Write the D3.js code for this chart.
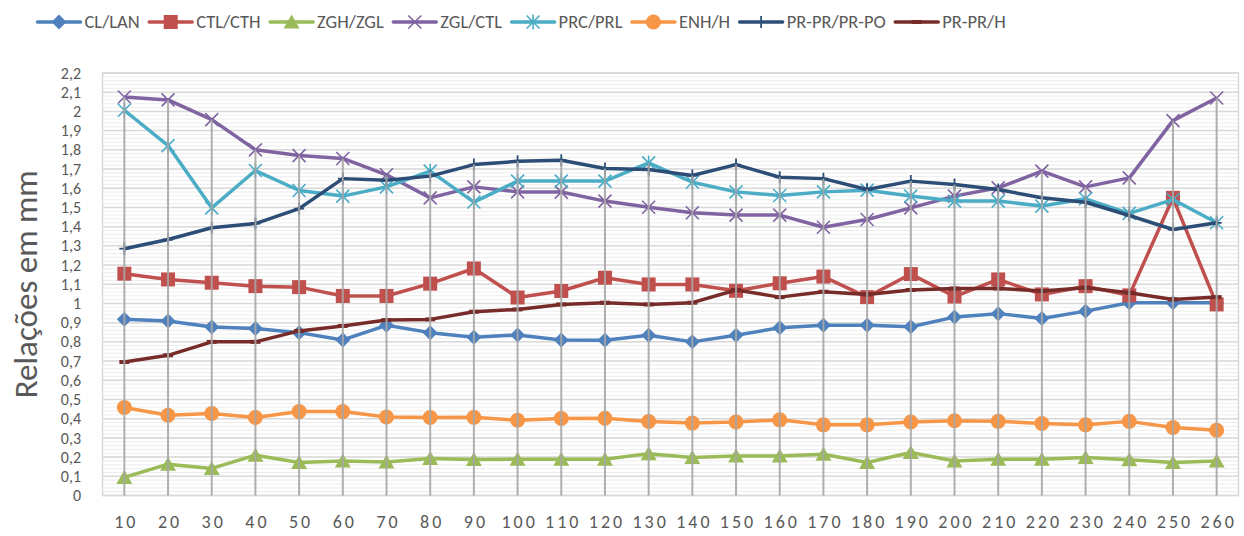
<!DOCTYPE html>
<html>
<head>
<meta charset="utf-8">
<script src="https://cdn.jsdelivr.net/npm/d3@7"></script>
<style>
  html, body { margin: 0; padding: 0; background: #fff; }
  svg { display: block; font-family: Carlito, Lato, "Open Sans", sans-serif; }
</style>
</head>
<body>
<svg id="chart" width="1244" height="536"></svg>
<script>
// Categories (x axis) and y tick labels
const categories = [10, 20, 30, 40, 50, 60, 70, 80, 90, 100, 110, 120, 130, 140, 150, 160, 170, 180, 190, 200, 210, 220, 230, 240, 250, 260];
const yTickValues = [0, 0.1, 0.2, 0.3, 0.4, 0.5, 0.6, 0.7, 0.8, 0.9, 1, 1.1, 1.2, 1.3, 1.4, 1.5, 1.6, 1.7, 1.8, 1.9, 2, 2.1, 2.2];

// Series values (ratios in mm)
const clLan = [0.918, 0.909, 0.877, 0.870, 0.848, 0.810, 0.886, 0.848, 0.824, 0.836, 0.810, 0.808, 0.834, 0.800, 0.834, 0.874, 0.886, 0.886, 0.879, 0.929, 0.947, 0.922, 0.960, 1.004, 1.004, 1.004];
const ctlCth = [1.155, 1.125, 1.108, 1.090, 1.085, 1.039, 1.039, 1.103, 1.182, 1.031, 1.065, 1.134, 1.099, 1.099, 1.066, 1.105, 1.140, 1.033, 1.153, 1.036, 1.125, 1.047, 1.090, 1.042, 1.550, 0.995];
const zghZgl = [0.094, 0.163, 0.141, 0.210, 0.172, 0.180, 0.175, 0.193, 0.187, 0.189, 0.189, 0.189, 0.218, 0.198, 0.206, 0.206, 0.215, 0.172, 0.224, 0.180, 0.189, 0.189, 0.198, 0.186, 0.172, 0.180];
const zglCtl = [2.075, 2.060, 1.957, 1.800, 1.770, 1.755, 1.670, 1.550, 1.607, 1.581, 1.580, 1.533, 1.501, 1.472, 1.460, 1.460, 1.397, 1.437, 1.498, 1.559, 1.602, 1.689, 1.607, 1.654, 1.952, 2.070];
const prcPrl = [2.006, 1.822, 1.498, 1.692, 1.588, 1.559, 1.607, 1.689, 1.528, 1.637, 1.637, 1.637, 1.732, 1.631, 1.581, 1.562, 1.581, 1.590, 1.559, 1.533, 1.533, 1.507, 1.545, 1.469, 1.541, 1.420];
const enhH = [0.458, 0.418, 0.427, 0.406, 0.437, 0.437, 0.409, 0.406, 0.407, 0.392, 0.401, 0.402, 0.385, 0.377, 0.383, 0.394, 0.368, 0.368, 0.383, 0.389, 0.386, 0.375, 0.368, 0.386, 0.354, 0.340];
const prPrPo = [1.285, 1.333, 1.394, 1.416, 1.494, 1.650, 1.642, 1.663, 1.723, 1.740, 1.746, 1.703, 1.697, 1.666, 1.723, 1.657, 1.650, 1.593, 1.637, 1.619, 1.593, 1.550, 1.527, 1.458, 1.385, 1.420];
const prPrH = [0.695, 0.730, 0.800, 0.800, 0.857, 0.883, 0.914, 0.917, 0.957, 0.969, 0.995, 1.004, 0.995, 1.004, 1.070, 1.033, 1.061, 1.047, 1.070, 1.078, 1.078, 1.065, 1.082, 1.056, 1.021, 1.033];

const seriesNames = ["CL/LAN", "CTL/CTH", "ZGH/ZGL", "ZGL/CTL", "PRC/PRL", "ENH/H", "PR-PR/PR-PO", "PR-PR/H"];
const seriesValues = [clLan, ctlCth, zghZgl, zglCtl, prcPrl, enhH, prPrPo, prPrH];
const seriesColors = ["#4F81BD", "#C0504D", "#9BBB59", "#8064A2", "#4BACC6", "#F79646", "#2C4D75", "#772C2A"];
const seriesMarkers = ["diamond", "square", "triangle", "x", "star", "circle", "plus", "dash"];

const series = seriesNames.map((name, i) => ({
  name, color: seriesColors[i], marker: seriesMarkers[i],
  values: seriesValues[i].map((v, j) => ({ cat: categories[j], v }))
}));

const svg = d3.select("#chart");
const plot = { left: 102.5, right: 1238.5, top: 73, bottom: 495.5 };

const x = d3.scalePoint().domain(categories).range([plot.left, plot.right]).padding(0.5);
const y = d3.scaleLinear().domain([0, 2.2]).range([plot.bottom, plot.top]);

// Minor and major horizontal gridlines
const minorTicks = d3.range(0, 111).map(i => i * 0.02);
svg.append("g").selectAll("line").data(minorTicks).join("line")
  .attr("x1", plot.left).attr("x2", plot.right)
  .attr("y1", d => y(d)).attr("y2", d => y(d))
  .attr("stroke", "#ededed").attr("stroke-width", 1);
svg.append("g").selectAll("line").data(yTickValues).join("line")
  .attr("x1", plot.left).attr("x2", plot.right)
  .attr("y1", d => y(d)).attr("y2", d => y(d))
  .attr("stroke", "#d9d9d9").attr("stroke-width", 1.5);

// Plot border
svg.append("rect")
  .attr("x", plot.left).attr("y", plot.top)
  .attr("width", plot.right - plot.left).attr("height", plot.bottom - plot.top)
  .attr("fill", "none").attr("stroke", "#d9d9d9").attr("stroke-width", 1.5);

// Y axis labels
const yAxis = d3.axisLeft(y).tickValues(yTickValues).tickSize(0).tickPadding(0)
  .tickFormat(d => d3.format("~g")(d).replace(".", ","));
const yg = svg.append("g").attr("transform", `translate(81,0)`).call(yAxis);
yg.select(".domain").remove();
yg.selectAll("text").attr("font-size", 16).attr("fill", "#595959")
  .attr("font-family", "Carlito, Lato, sans-serif");

// X axis labels
const xAxis = d3.axisBottom(x).tickSize(0).tickPadding(0);
const xg = svg.append("g").attr("transform", `translate(1.5,515)`).call(xAxis);
xg.select(".domain").remove();
xg.selectAll("text").attr("font-size", 18).attr("fill", "#595959")
  .attr("letter-spacing", 3)
  .attr("font-family", "Carlito, Lato, sans-serif");

// Y axis title
svg.append("text")
  .attr("transform", `translate(37,${(plot.top + plot.bottom) / 2}) rotate(-90)`)
  .attr("text-anchor", "middle")
  .attr("font-size", 33).attr("fill", "#595959")
  .text("Relações em mm");

// Marker drawing
function drawMarker(g, type, color) {
  switch (type) {
    case "diamond":
      g.append("path").attr("d", "M0,-7.5L7.5,0L0,7.5L-7.5,0Z").attr("fill", color);
      break;
    case "square":
      g.append("rect").attr("x", -7).attr("y", -7).attr("width", 14).attr("height", 14).attr("fill", color);
      break;
    case "triangle":
      g.append("path").attr("d", "M0,-7.5L8,6.5L-8,6.5Z").attr("fill", color);
      break;
    case "circle":
      g.append("circle").attr("r", 7.5).attr("fill", color);
      break;
    case "x":
      g.append("path").attr("d", "M-6.5,-6.5L6.5,6.5M-6.5,6.5L6.5,-6.5").attr("stroke", color).attr("stroke-width", 1.6).attr("fill", "none");
      break;
    case "star":
      g.append("path").attr("d", "M-6.5,-6.5L6.5,6.5M-6.5,6.5L6.5,-6.5M0,-7.5L0,7.5").attr("stroke", color).attr("stroke-width", 1.6).attr("fill", "none");
      break;
    case "plus":
      g.append("path").attr("d", "M0,-6L0,6M-5,0L5,0").attr("stroke", color).attr("stroke-width", 1.8).attr("fill", "none");
      break;
    case "dash":
      g.append("path").attr("d", "M-5,0L5,0").attr("stroke", color).attr("stroke-width", 4).attr("fill", "none");
      break;
  }
}

const line = d3.line().x(d => x(d.cat)).y(d => y(d.v));

series.forEach(s => {
  const g = svg.append("g");
  g.append("path").datum(s.values).attr("d", line)
    .attr("fill", "none").attr("stroke", s.color).attr("stroke-width", 3.5)
    .attr("stroke-linejoin", "round");
  s.values.forEach(p => {
    const m = g.append("g").attr("transform", `translate(${x(p.cat)},${y(p.v)})`);
    drawMarker(m, s.marker, s.color);
  });
});

// Drop lines from the highest point of each category down to the axis
const maxPerCat = categories.map((c, j) => ({ cat: c, v: d3.max(seriesValues, s => s[j]) }));
svg.append("g").selectAll("line").data(maxPerCat).join("line")
  .attr("x1", d => x(d.cat)).attr("x2", d => x(d.cat))
  .attr("y1", d => y(d.v)).attr("y2", plot.bottom)
  .attr("stroke", "#a6a6a6").attr("stroke-width", 2).attr("stroke-opacity", 0.9);

// Legend
const legend = svg.append("g");
let lx = 37.5;
const ly = 22;
series.forEach(s => {
  const item = legend.append("g");
  item.append("line").attr("x1", lx).attr("x2", lx + 43).attr("y1", ly).attr("y2", ly)
    .attr("stroke", s.color).attr("stroke-width", 3.5).attr("stroke-linecap", "round");
  const m = item.append("g").attr("transform", `translate(${lx + 21.5},${ly})`);
  drawMarker(m, s.marker, s.color);
  const t = item.append("text").attr("x", lx + 47).attr("y", ly).attr("dy", "0.35em")
    .attr("font-size", 18.5).attr("fill", "#595959").text(s.name);
  lx += 47 + t.node().getComputedTextLength() + 9.5;
});
</script>
</body>
</html>
